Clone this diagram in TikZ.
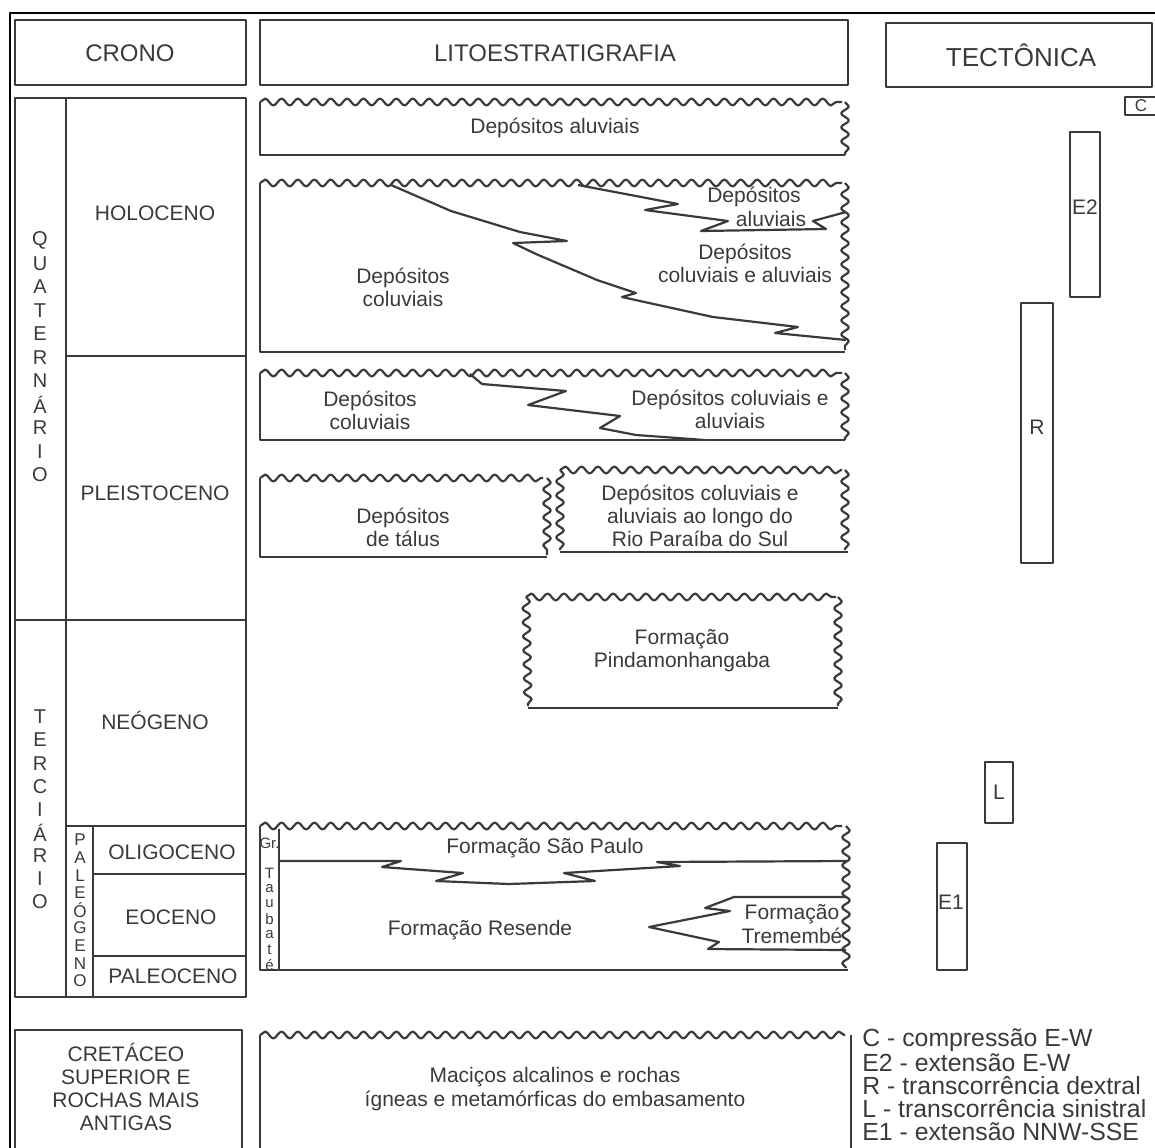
\documentclass[tikz,border=0pt]{standalone}
\usepackage{fontspec}
\setmainfont{Liberation Sans}
\usetikzlibrary{decorations.pathmorphing}
\definecolor{inkgray}{RGB}{58,58,58}

\begin{document}
\begin{tikzpicture}[x=0.5pt,y=-0.5pt,line join=round]
  \tikzstyle{edge}=[draw=inkgray,line width=1.1pt]
  \tikzstyle{wavy}=[edge,decorate,decoration={snake,segment length=8.2pt,amplitude=1.7pt}]
  \tikzstyle{wavyv}=[edge,decorate,decoration={snake,segment length=7pt,amplitude=1.9pt}]
  \tikzstyle{lbl}=[text=inkgray,font=\fontsize{10.5}{11.6}\selectfont,align=center,inner sep=0pt]
  \tikzstyle{head}=[lbl,font=\fontsize{12}{14}\selectfont]
  \tikzstyle{ltr}=[lbl,font=\fontsize{10}{12}\selectfont]
  \tikzstyle{tiny}=[lbl,font=\fontsize{8.5}{10}\selectfont]
  \tikzstyle{key}=[lbl,anchor=west,align=left,font=\fontsize{12.4}{13}\selectfont]
  \useasboundingbox (0,0) rectangle (1155,1147);
  \draw[black,line width=1.4pt] (1170,13) -- (10,13) -- (10,1170);

  % headers
  \draw[edge] (15,20) rectangle (246,85);
  \node[head] (crono) at (130,53) {CRONO};
  \draw[edge] (260,20) rectangle (848,85);
  \node[head] (lito) at (555,53) {LITOESTRATIGRAFIA};
  \draw[edge] (886,23) rectangle (1152,87);
  \node[head,font=\fontsize{13}{15}\selectfont] (tect) at (1021,55) {TECTÔNICA};

  % crono column
  \draw[edge] (15,98) rectangle (246,997);
  \draw[edge] (66,98) -- (66,997);
  \draw[edge] (66,356) -- (246,356);
  \draw[edge] (15,620) -- (246,620);
  \draw[edge] (66,826) -- (246,826);
  \draw[edge] (93,826) -- (93,997);
  \draw[edge] (93,874) -- (246,874);
  \draw[edge] (93,956) -- (246,956);
  \node[lbl] (holo) at (155,213) {HOLOCENO};
  \node[lbl] (pleis) at (155,493) {PLEISTOCENO};
  \node[lbl] (neo) at (155,720) {NEÓGENO};
  \node[lbl] (oligo) at (172,852) {OLIGOCENO};
  \node[lbl] (eoc) at (171,917) {EOCENO};
  \node[lbl] (paleoc) at (173,976) {PALEOCENO};
  \foreach \c [count=\i from 0] in {Q,U,A,T,E,R,N,Á,R,I,O}
    \node[ltr] (quat\i) at (40,{240+23.5*\i}) {\c};
  \foreach \c [count=\i from 0] in {T,E,R,C,I,Á,R,I,O}
    \node[ltr] (terc\i) at (40,{717+23.1*\i}) {\c};
  \foreach \c [count=\i from 0] in {P,A,L,E,Ó,G,E,N,O}
    \node[tiny] (paleog\i) at (80,{840+17.6*\i}) {\c};

  % depositos aluviais
  \draw[wavy] (260,102) -- (842,102);
  \draw[wavyv] (845,102) -- (845,155);
  \draw[edge] (260,102) -- (260,155) -- (845,155);
  \node[lbl] (aluv) at (555,128) {Depósitos aluviais};

  % holoceno
  \draw[wavy] (260,183) -- (842,183);
  \draw[wavyv] (845,183) -- (845,350);
  \draw[edge] (260,183) -- (260,352) -- (845,352);
  \draw[edge] (391,185) -- (451,211) -- (520,232) -- (567,241) -- (513,243) -- (536,254)
    -- (597,280) -- (636,293) -- (622,297) -- (640,301) -- (713,317) -- (798,327)
    -- (775,333) -- (846,340);
  \draw[edge] (578,185) -- (678,204) -- (645,210) -- (728,221) -- (701,231) -- (826,229)
    -- (813,221) -- (846,212);
  \node[lbl] (holocol) at (403,287) {Depósitos\\coluviais};
  \node[lbl] (holoaluv) at (754,197) {Depósitos};
  \node[lbl] (holoaluvb) at (771,219) {aluviais};
  \node[lbl] (holomix) at (745,263) {Depósitos\\coluviais e aluviais};

  % pleistoceno
  \draw[wavy] (260,373) -- (842,373);
  \draw[wavyv] (845,373) -- (845,440);
  \draw[edge] (260,373) -- (260,440) -- (845,440);
  \draw[edge] (470,374) -- (482,384) -- (566,391) -- (528,405) -- (620,416) -- (600,428)
    -- (636,435) -- (705,440);
  \node[lbl] (pleiscol) at (370,410) {Depósitos\\coluviais};
  \node[lbl] (pleismix) at (730,409) {Depósitos coluviais e\\aluviais};

  \draw[wavy] (260,478) -- (543,478);
  \draw[wavyv] (547,478) -- (547,555);
  \draw[edge] (260,478) -- (260,557) -- (547,557);
  \node[lbl] (talus) at (403,527) {Depósitos\\de tálus};

  \draw[wavy] (560,470) -- (842,470);
  \draw[wavyv] (560,470) -- (560,550);
  \draw[wavyv] (845,470) -- (845,550);
  \draw[edge] (560,552) -- (848,552);
  \node[lbl] (rio) at (700,516) {Depósitos coluviais e\\aluviais ao longo do\\Rio Paraíba do Sul};

  % pindamonhangaba
  \draw[wavy] (526,597) -- (836,597);
  \draw[wavyv] (526,597) -- (528,706);
  \draw[wavyv] (838,597) -- (838,706);
  \draw[edge] (528,708) -- (838,708);
  \node[lbl] (pinda) at (682,651) {Formação\\Pindamonhangaba};

  % grupo taubate
  \draw[wavy] (260,826) -- (842,826);
  \draw[wavyv] (846,826) -- (846,968);
  \draw[edge] (260,826) -- (260,970) -- (848,970);
  \draw[edge] (279,829) -- (279,970);
  \node[tiny,font=\fontsize{7.5}{9}\selectfont] (gr) at (269.5,843) {Gr.};
  \foreach \c [count=\i from 0] in {T,a,u,b,a,t,é}
    \node[tiny,font=\fontsize{7.5}{9}\selectfont] (taub\i) at (269.5,{873+15.3*\i}) {\c};
  \draw[edge] (279,861) -- (401,861) -- (382,867) -- (463,873) -- (436,881) -- (509,884)
    -- (595,881) -- (564,873) -- (680,866) -- (657,862) -- (846,861);
  \draw[edge] (846,897) -- (734,897) -- (705,908) -- (730,911) -- (649,927) -- (719,942)
    -- (708,949) -- (846,950);
  \node[lbl] (saopaulo) at (545,848) {Formação São Paulo};
  \node[lbl] (resende) at (480,930) {Formação Resende};
  \node[lbl] (trem) at (792,924) {Formação\\Tremembé};

  % embasamento
  \draw[edge] (15,1030) rectangle (242,1170);
  \node[lbl] (cret) at (126,1087) {CRETÁCEO\\SUPERIOR E\\ROCHAS MAIS\\ANTIGAS};
  \draw[wavy] (260,1035) -- (845,1035);
  \draw[edge] (260,1035) -- (260,1170);
  \draw[edge] (851,1035) -- (851,1170);
  \node[lbl] (macicos) at (555,1089) {Maciços alcalinos e rochas\\ígneas e metamórficas do embasamento};

  % tectonica
  \draw[edge] (1125,97) rectangle (1170,115);
  \node[tiny] (tc) at (1141,106) {C};
  \draw[edge] (1070,132) rectangle (1100,297);
  \node[lbl] (te2) at (1085,207) {E2};
  \draw[edge] (1021,303) rectangle (1053,563);
  \node[lbl] (tr) at (1037,427) {R};
  \draw[edge] (985,762) rectangle (1013,823);
  \node[lbl] (tl) at (999,792) {L};
  \draw[edge] (937,843) rectangle (967,970);
  \node[lbl] (te1) at (951,902) {E1};

  % legenda
  \node[key] (kc) at (862,1040) {C - compressão E-W};
  \node[key] (ke2) at (862,1063) {E2 - extensão E-W};
  \node[key] (kr) at (862,1086) {R - transcorrência dextral};
  \node[key] (kl) at (862,1109) {L - transcorrência sinistral};
  \node[key] (ke1) at (862,1132) {E1 - extensão NNW-SSE};
\end{tikzpicture}
\end{document}
